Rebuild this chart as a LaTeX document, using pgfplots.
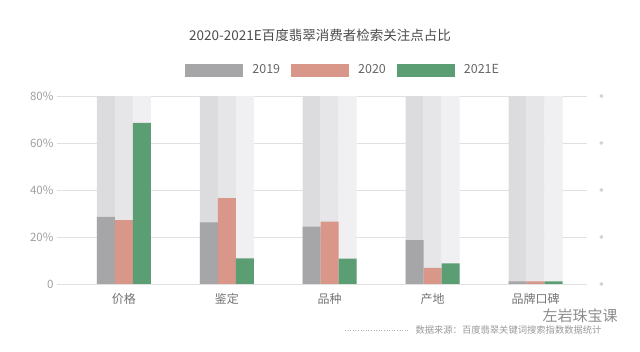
\documentclass[border=0pt]{standalone}
\usepackage{pgfplots}
\pgfplotsset{compat=1.18}
\usepackage{fontspec}
\setmainfont{Noto Sans CJK SC}
\definecolor{cA}{HTML}{A6A6A8}
\definecolor{cB}{HTML}{D9978A}
\definecolor{cC}{HTML}{5C9E73}
\definecolor{bgA}{HTML}{DCDCDE}
\definecolor{bgB}{HTML}{E6E6E8}
\definecolor{bgC}{HTML}{F0F0F2}
\begin{document}
\begin{tikzpicture}[x=1pt,y=1pt]
\useasboundingbox (0,0) rectangle (640,352);
\node[font=\fontsize{13.5}{14}\selectfont, text=black!70] at (320,317) {2020-2021E百度翡翠消费者检索关注点占比};
\begin{axis}[
  at={(57pt,68pt)}, anchor=south west,
  scale only axis, width=530pt, height=188pt,
  xmin=-0.65, xmax=4.5, ymin=0, ymax=80,
  clip=false,
  ybar, bar width=18pt,
  axis line style={draw=none}, tick style={draw=none},
  ymajorgrids, grid style={draw=black!12, line width=0.6pt},
  ytick={0,20,40,60,80},
  yticklabels={0,20\%,40\%,60\%,80\%},
  xtick={0,1,2,3,4},
  xticklabels={价格,鉴定,品种,产地,品牌口碑},
  /pgf/number format/assume math mode=true,
  yticklabel style={font=\fontsize{11.5}{12}\selectfont, text=black!38},
  xticklabel style={font=\fontsize{12}{13}\selectfont, text=black!55, yshift=-2pt},
  legend columns=3,
  legend style={draw=none, fill=none, at={(0.54,1.138)}, anchor=center,
    font=\fontsize{12.5}{13}\selectfont, text=black!60,
    /tikz/every odd column/.append style={column sep=7pt},
    /tikz/every even column/.append style={column sep=9pt}},
  legend image code/.code={\fill[#1] (0pt,-6.5pt) rectangle (58pt,6.5pt);},
]
\addplot[fill=bgA, draw=none, bar shift=-18pt, forget plot] coordinates {(0,80) (1,80) (2,80) (3,80) (4,80)};
\addplot[fill=bgB, draw=none, bar shift=0pt, forget plot] coordinates {(0,80) (1,80) (2,80) (3,80) (4,80)};
\addplot[fill=bgC, draw=none, bar shift=18pt, forget plot] coordinates {(0,80) (1,80) (2,80) (3,80) (4,80)};
\addplot[fill=cA, draw=none, bar shift=-18pt] coordinates {(0,28.6) (1,26.2) (2,24.4) (3,18.7) (4,1.1)};
\addlegendentry{2019}
\addplot[fill=cB, draw=none, bar shift=0pt] coordinates {(0,27.2) (1,36.5) (2,26.5) (3,6.9) (4,1.1)};
\addlegendentry{2020}
\addplot[fill=cC, draw=none, bar shift=18pt] coordinates {(0,68.6) (1,10.9) (2,10.8) (3,8.8) (4,1.1)};
\addlegendentry{2021E}
\addplot[only marks, mark=*, mark size=1.8pt, color=black!18, forget plot] coordinates {(4.64,0) (4.64,20) (4.64,40) (4.64,60) (4.64,80)};
\end{axis}
\draw[black!30, line width=0.6pt, dash pattern=on 0.6pt off 2pt] (345,22) -- (410,22);
\node[anchor=west, font=\fontsize{9.3}{10}\selectfont, text=black!40] at (412,22.5) {数据来源：百度翡翠关键词搜索指数数据统计};
\node[font=\fontsize{15}{16}\selectfont, text=black!45] at (580,36) {左岩珠宝课};
\end{tikzpicture}
\end{document}
